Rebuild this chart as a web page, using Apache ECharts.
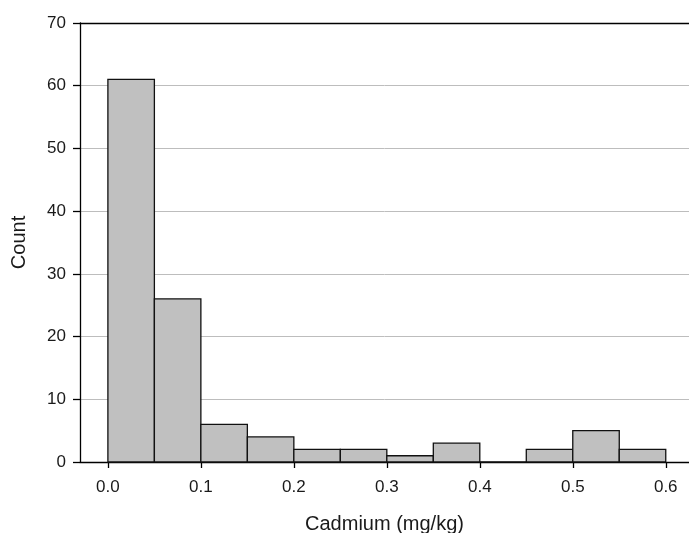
<!DOCTYPE html>
<html><head><meta charset="utf-8">
<script src="https://cdn.jsdelivr.net/npm/echarts@6/dist/echarts.min.js"></script>
<style>html,body{margin:0;padding:0;background:#fff}#c{width:689px;height:533px}</style>
</head><body><div id="c"></div>
<script>
const binStarts = [0.00,0.05,0.10,0.15,0.20,0.25,0.30,0.35,0.40,0.45,0.50,0.55];
const binWidth = 0.05;
const counts = [61,26,6,4,2,2,1,3,0,2,5,2];
const xTicks = [0.0,0.1,0.2,0.3,0.4,0.5,0.6];
const yTicks = [0,10,20,30,40,50,60,70];

const data = binStarts.map((s,i)=>[s, s+binWidth, counts[i]]);
const chart = echarts.init(document.getElementById('c'));
const font = 'Liberation Sans, Arial, sans-serif';
const xMin = -0.03, xMax = 0.625;
chart.setOption({
  animation:false,
  grid:{left:80, right:0, top:23, bottom:71, outerBoundsMode:'none', containLabel:false},
  xAxis:[{type:'value', min:xMin, max:xMax, interval:0.1,
    axisLine:{show:true,onZero:false,lineStyle:{color:'#000',width:1.3}},
    axisTick:{show:true,length:6,lineStyle:{color:'#000',width:1.3},
      customValues:xTicks},
    axisLabel:{color:'#1a1a1a',fontSize:17,fontFamily:font,margin:17,
      customValues:xTicks, formatter:v=>v.toFixed(1)},
    splitLine:{show:false},
    name:'Cadmium (mg/kg)', nameLocation:'middle', nameGap:52,
    nameTextStyle:{color:'#1a1a1a',fontSize:20,fontFamily:font}},
   {type:'value', position:'top', min:xMin, max:xMax,
    axisLine:{show:true,onZero:false,lineStyle:{color:'#000',width:1.3}},
    axisTick:{show:false}, axisLabel:{show:false}, splitLine:{show:false}}],
  yAxis:{type:'value', min:0, max:70, interval:10,
    axisLine:{show:true,onZero:false,lineStyle:{color:'#000',width:1.3}},
    axisTick:{show:true,length:7,lineStyle:{color:'#000',width:1.3},customValues:yTicks},
    axisLabel:{color:'#1a1a1a',fontSize:17,fontFamily:font,margin:14,customValues:yTicks},
    splitLine:{show:true,lineStyle:{color:'#bdbdbd',width:1}},
    name:'Count', nameLocation:'middle', nameGap:51,
    nameTextStyle:{color:'#1a1a1a',fontSize:20,fontFamily:font}},
  series:[{type:'custom', data:data, encode:{x:[0,1],y:2},
    renderItem:(params, api)=>{
      const p0 = api.coord([api.value(0), 0]);
      const p1 = api.coord([api.value(1), api.value(2)]);
      return {type:'rect', shape:{x:p0[0], y:p1[1], width:p1[0]-p0[0], height:p0[1]-p1[1]},
        style:{fill:'#c0c0c0', stroke:'#111', lineWidth:1.3}};
    }}]
});
</script></body></html>
